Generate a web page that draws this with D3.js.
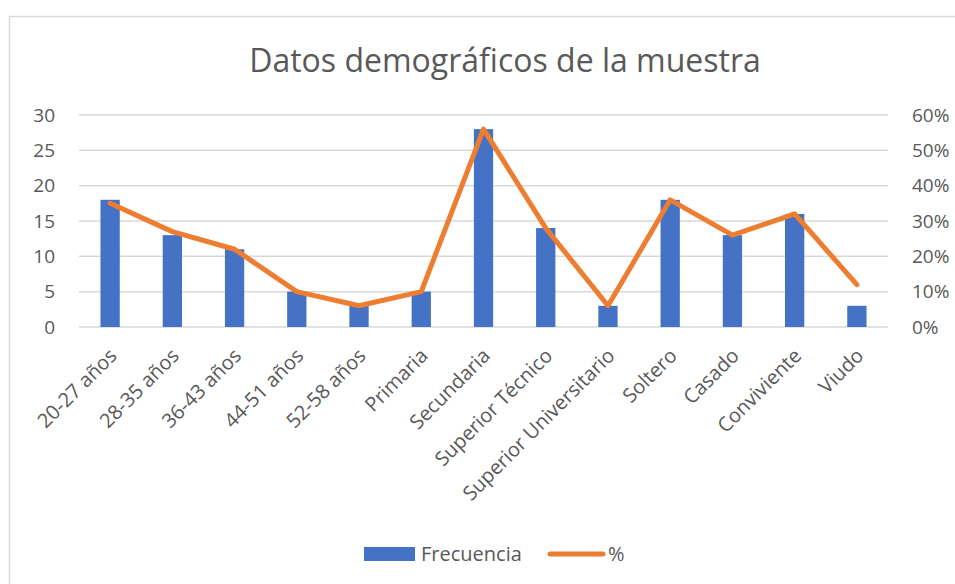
<!DOCTYPE html>
<html>
<head>
<meta charset="utf-8">
<script src="https://cdn.jsdelivr.net/npm/d3@7"></script>
<style>
  body { margin: 0; background: #fff; }
  text { font-family: "Open Sans", sans-serif; fill: #595959; }
</style>
</head>
<body>
<svg id="chart" width="955" height="584"></svg>
<script>
const categories = [
  "20-27 años", "28-35 años", "36-43 años", "44-51 años", "52-58 años",
  "Primaria", "Secundaria", "Superior Técnico", "Superior Universitario",
  "Soltero", "Casado", "Conviviente", "Viudo",
];
const frecuencia = [18, 13, 11, 5, 3, 5, 28, 14, 3, 18, 13, 16, 3];
const porcentaje = [0.35, 0.27, 0.22, 0.10, 0.06, 0.10, 0.56, 0.28, 0.06, 0.36, 0.26, 0.32, 0.12];
const leftTicks = [0, 5, 10, 15, 20, 25, 30];
const rightTicks = [0, 0.1, 0.2, 0.3, 0.4, 0.5, 0.6];

const svg = d3.select("#chart");
const area = { left: 79, right: 888, top: 115, bottom: 327 };

// chart frame
svg.append("rect")
  .attr("x", 9.5).attr("y", 16.5)
  .attr("width", 960).attr("height", 600)
  .style("fill", "none").style("stroke", "#d9d9d9").style("stroke-width", 1.5);

svg.append("text")
  .attr("x", 505).attr("y", 72)
  .attr("text-anchor", "middle")
  .style("font-size", "32px")
  .text("Datos demográficos de la muestra");

const scX = d3.scaleBand().domain(categories).range([area.left, area.right]);
const scY = d3.scaleLinear().domain([0, 30]).range([area.bottom, area.top]);
const scY2 = d3.scaleLinear().domain([0, 0.6]).range([area.bottom, area.top]);

// gridlines
svg.append("g")
  .selectAll("line")
  .data(leftTicks)
  .enter()
  .append("line")
  .attr("x1", area.left).attr("x2", area.right)
  .attr("y1", (d) => scY(d)).attr("y2", (d) => scY(d))
  .style("stroke", "#d9d9d9").style("stroke-width", 1.5);

const axisL = svg.append("g")
  .attr("transform", `translate(${area.left - 10}, 0)`)
  .call(d3.axisLeft(scY).tickValues(leftTicks).tickSize(0).tickPadding(14));
const axisR = svg.append("g")
  .attr("transform", `translate(${area.right + 10}, 0)`)
  .call(d3.axisRight(scY2).tickValues(rightTicks).tickSize(0).tickPadding(14)
    .tickFormat(d3.format(".0%")));
[axisL, axisR].forEach((g) => {
  g.select(".domain").remove();
  g.selectAll("text").style("font-size", "19px").style("fill", "#595959")
    .style("font-family", '"Open Sans", sans-serif');
});

// bars
const barW = scX.bandwidth() * 0.31;
svg.append("g")
  .selectAll("rect")
  .data(categories)
  .enter()
  .append("rect")
  .attr("x", (d) => scX(d) + scX.bandwidth() / 2 - barW / 2)
  .attr("y", (d, i) => scY(frecuencia[i]))
  .attr("width", barW)
  .attr("height", (d, i) => scY(0) - scY(frecuencia[i]))
  .style("fill", "#4472c4");

// line
const line = d3.line()
  .x((d, i) => scX(categories[i]) + scX.bandwidth() / 2)
  .y((d) => scY2(d));
svg.append("path")
  .datum(porcentaje)
  .attr("d", line)
  .style("fill", "none")
  .style("stroke", "#ed7d31")
  .style("stroke-width", 5)
  .style("stroke-linejoin", "round")
  .style("stroke-linecap", "round");

// category labels
svg.append("g")
  .selectAll("text")
  .data(categories)
  .enter()
  .append("text")
  .attr("text-anchor", "end")
  .attr("transform", (d) =>
    `translate(${scX(d) + scX.bandwidth() / 2 + 3}, ${area.bottom + 25}) rotate(-45)`)
  .attr("dy", "0.35em")
  .style("font-size", "20px")
  .text((d) => d);

// legend
const legend = svg.append("g");
legend.append("rect")
  .attr("x", 364).attr("y", 547).attr("width", 51).attr("height", 14)
  .style("fill", "#4472c4");
legend.append("text")
  .attr("x", 421).attr("y", 561)
  .style("font-size", "20px")
  .text("Frecuencia");
legend.append("line")
  .attr("x1", 550).attr("x2", 603).attr("y1", 554).attr("y2", 554)
  .style("stroke", "#ed7d31").style("stroke-width", 5).style("stroke-linecap", "round");
legend.append("text")
  .attr("x", 608).attr("y", 561)
  .style("font-size", "20px")
  .text("%");
</script>
</body>
</html>
